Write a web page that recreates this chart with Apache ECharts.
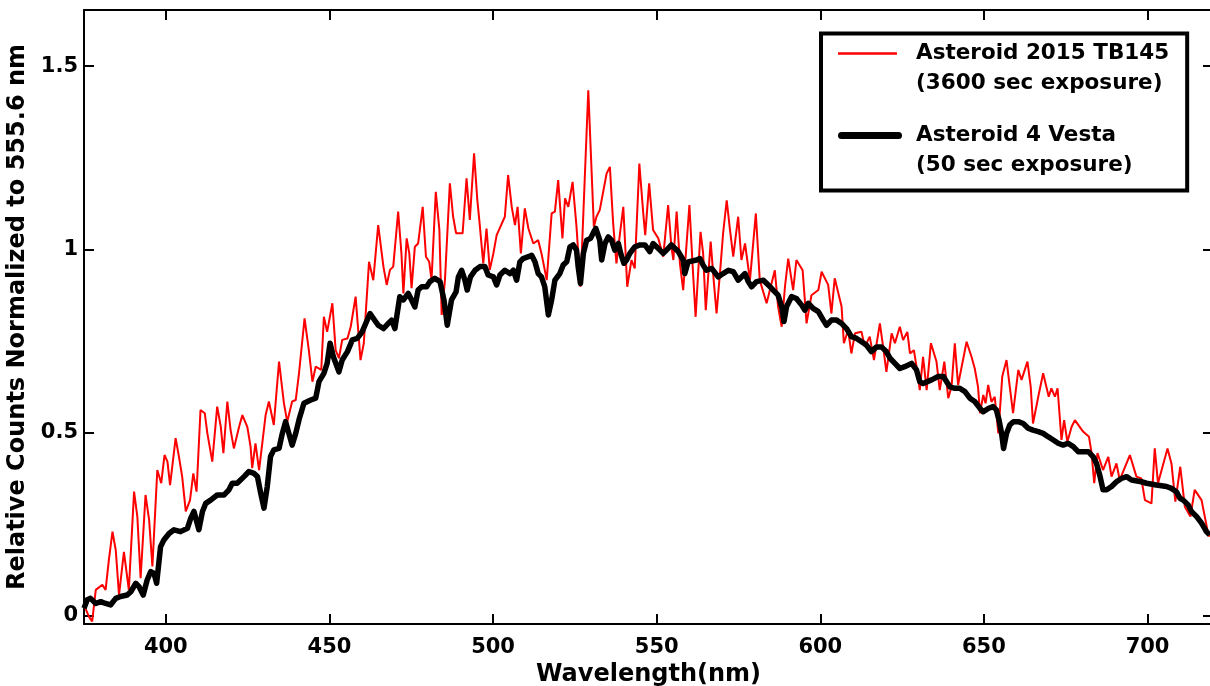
<!DOCTYPE html>
<html>
<head>
<meta charset="utf-8">
<script src="https://cdn.jsdelivr.net/npm/echarts@6/dist/echarts.min.js"></script>
<style>
  html, body { margin: 0; padding: 0; background: #fff; }
  #chart { width: 1210px; height: 686px; }
</style>
</head>
<body>
<div id="chart"></div>
<script>
// values
const xTicks = [400, 450, 500, 550, 600, 650, 700];
const yTicks = [0, 0.5, 1, 1.5];
const seriesNames = ["Asteroid 2015 TB145", "Asteroid 4 Vesta"];
const exposureNotes = ["(3600 sec exposure)", "(50 sec exposure)"];

// Asteroid 2015 TB145 (red)
const tb145Nm = [
  375.0, 376.5, 377.5, 378.6, 380.6, 381.6, 382.6, 383.7, 384.7, 385.7, 387.2, 388.7,
  390.3, 391.3, 392.3, 393.8, 394.9, 395.9, 397.4, 398.6, 399.6, 400.5, 401.3, 403.0,
  404.0, 405.0, 406.1, 407.4, 408.4, 409.4, 410.6, 411.9, 412.7, 414.2, 415.7, 416.8,
  417.6, 418.8, 419.8, 420.8, 422.4, 423.4, 424.9, 425.9, 426.4, 427.4, 428.5, 430.5,
  431.5, 433.0, 434.6, 436.1, 437.1, 438.6, 439.7, 440.7, 442.4, 443.7, 444.8, 445.8,
  447.5, 448.3, 449.3, 450.9, 451.9, 452.9, 453.9, 455.5, 456.5, 458.0, 459.5, 460.5,
  462.1, 463.4, 464.9, 466.5, 467.5, 468.5, 469.5, 471.0, 472.0, 472.6, 473.6, 474.4,
  475.1, 476.1, 477.1, 478.5, 479.5, 480.5, 481.2, 482.5, 483.6, 484.3, 485.3, 486.8,
  487.8, 488.7, 490.7, 491.9, 492.9, 494.2, 495.2, 495.8, 497.0, 498.0, 499.0, 500.1,
  501.1, 503.6, 504.6, 505.7, 506.7, 507.5, 508.5, 509.7, 510.8, 512.3, 513.8, 514.8,
  516.4, 517.9, 518.9, 519.9, 521.2, 522.0, 523.0, 524.3, 525.5, 526.7, 529.1, 530.8,
  531.6, 532.6, 534.7, 535.7, 536.7, 537.7, 538.8, 539.8, 541.0, 542.3, 543.3, 544.7,
  545.9, 546.5, 547.7, 548.9, 550.5, 552.0, 553.5, 554.5, 555.1, 556.1, 557.1, 558.1,
  560.0, 561.0, 561.9, 563.4, 564.2, 565.0, 566.5, 567.5, 568.3, 569.5, 570.3, 571.4,
  572.4, 573.4, 574.9, 575.9, 577.0, 578.5, 580.3, 581.5, 583.6, 586.1, 587.1, 588.2,
  589.2, 590.2, 591.7, 592.7, 594.6, 595.8, 597.3, 599.4, 600.4, 602.4, 603.4, 604.4,
  606.5, 607.2, 608.5, 609.5, 610.6, 612.6, 613.6, 615.1, 616.4, 618.2, 619.2, 620.2,
  621.8, 622.8, 624.3, 625.3, 626.6, 627.4, 628.6, 629.4, 630.4, 631.4, 632.5, 633.8,
  635.5, 636.5, 637.9, 639.1, 640.1, 641.1, 642.1, 644.7, 646.2, 647.2, 648.2, 648.8,
  649.8, 650.5, 651.3, 652.3, 653.3, 654.4, 655.6, 656.9, 657.9, 658.9, 660.5, 661.5,
  663.3, 664.3, 665.0, 666.6, 668.1, 669.8, 670.6, 671.7, 672.5, 673.7, 674.5, 675.5,
  676.8, 677.8, 680.3, 682.1, 682.9, 683.7, 684.7, 686.4, 688.0, 689.0, 690.5, 691.5,
  694.6, 696.6, 698.1, 699.2, 701.2, 702.2, 703.2, 706.1, 707.3, 708.5, 710.0, 711.4,
  713.1, 714.4, 716.5, 718.5, 719.0
];
const tb145Counts = [
  0.030, -0.002, -0.015, 0.071, 0.085, 0.071, 0.153, 0.230, 0.180, 0.057, 0.175, 0.071,
  0.339, 0.271, 0.103, 0.330, 0.262, 0.135, 0.398, 0.362, 0.439, 0.421, 0.357, 0.485,
  0.435, 0.380, 0.285, 0.316, 0.389, 0.339, 0.562, 0.553, 0.498, 0.421, 0.571, 0.516,
  0.444, 0.585, 0.507, 0.457, 0.516, 0.548, 0.516, 0.462, 0.403, 0.471, 0.398, 0.548,
  0.585, 0.521, 0.694, 0.580, 0.530, 0.585, 0.589, 0.662, 0.812, 0.725, 0.639, 0.680,
  0.671, 0.816, 0.775, 0.853, 0.725, 0.703, 0.753, 0.757, 0.789, 0.871, 0.698, 0.744,
  0.966, 0.916, 1.066, 0.953, 0.903, 0.944, 0.953, 1.103, 0.989, 0.880, 1.030, 0.989,
  0.894, 1.007, 1.016, 1.116, 0.980, 0.966, 0.916, 1.157, 1.053, 0.821, 0.916, 1.180,
  1.089, 1.044, 1.044, 1.194, 1.080, 1.262, 1.134, 1.080, 0.962, 1.057, 0.944, 0.989,
  1.039, 1.089, 1.203, 1.116, 1.066, 1.116, 0.989, 1.112, 1.057, 1.016, 1.025, 0.989,
  0.916, 1.098, 1.103, 1.189, 1.030, 1.139, 1.116, 1.184, 1.062, 0.898, 1.434, 1.062,
  1.089, 1.107, 1.207, 1.225, 1.071, 0.962, 1.044, 1.116, 0.898, 0.971, 0.948, 1.234,
  1.098, 1.039, 1.180, 1.053, 1.030, 0.980, 1.121, 1.007, 0.971, 1.103, 0.962, 0.889,
  1.121, 0.953, 0.816, 1.048, 0.989, 0.834, 1.021, 0.907, 0.825, 0.953, 1.044, 1.134,
  1.053, 0.980, 1.089, 0.971, 1.016, 0.916, 1.098, 0.916, 0.853, 0.943, 0.844, 0.789,
  0.898, 0.975, 0.889, 0.971, 0.943, 0.798, 0.875, 0.889, 0.939, 0.903, 0.825, 0.921,
  0.844, 0.744, 0.780, 0.716, 0.771, 0.775, 0.734, 0.762, 0.698, 0.798, 0.734, 0.666,
  0.771, 0.744, 0.789, 0.753, 0.775, 0.716, 0.725, 0.680, 0.616, 0.707, 0.616, 0.744,
  0.694, 0.616, 0.694, 0.594, 0.625, 0.744, 0.630, 0.748, 0.707, 0.675, 0.625, 0.553,
  0.603, 0.580, 0.630, 0.584, 0.598, 0.498, 0.653, 0.698, 0.625, 0.553, 0.671, 0.644,
  0.694, 0.625, 0.525, 0.598, 0.662, 0.598, 0.621, 0.598, 0.621, 0.480, 0.534, 0.475,
  0.516, 0.534, 0.503, 0.489, 0.444, 0.362, 0.444, 0.398, 0.434, 0.380, 0.416, 0.371,
  0.439, 0.380, 0.375, 0.316, 0.307, 0.457, 0.362, 0.457, 0.416, 0.312, 0.407, 0.298,
  0.271, 0.344, 0.316, 0.225, 0.216
];

// Asteroid 4 Vesta (black)
const vestaNm = [
  375.0, 376.0, 377.0, 378.6, 380.1, 381.6, 383.1, 384.7, 386.2, 388.2, 389.3, 390.8,
  391.8, 393.1, 394.3, 395.4, 396.4, 397.2, 398.4, 399.4, 401.0, 402.5, 404.5, 406.6,
  407.6, 408.6, 410.1, 411.2, 412.2, 413.7, 415.7, 417.8, 419.3, 420.3, 421.8, 423.9,
  425.4, 426.9, 428.0, 429.0, 430.0, 431.0, 432.0, 433.0, 434.6, 435.6, 436.6, 437.6,
  438.6, 439.7, 440.7, 442.2, 444.3, 445.8, 446.8, 448.3, 449.3, 450.2, 451.2, 452.9,
  453.9, 455.5, 457.0, 458.5, 460.0, 461.1, 462.4, 463.4, 464.9, 466.5, 468.0, 469.0,
  470.0, 471.5, 472.6, 474.1, 475.1, 476.1, 477.1, 478.2, 479.7, 480.7, 482.2, 483.8,
  485.0, 486.0, 487.3, 488.7, 489.4, 490.4, 491.4, 492.1, 493.1, 494.5, 496.0, 497.5,
  498.5, 500.1, 501.1, 502.1, 503.6, 505.2, 506.2, 507.2, 508.2, 509.2, 510.8, 511.8,
  512.8, 513.8, 514.8, 515.8, 516.9, 517.9, 518.9, 520.4, 521.4, 522.5, 523.5, 524.5,
  525.5, 526.0, 526.7, 527.6, 528.6, 529.8, 530.8, 531.4, 532.6, 533.2, 534.2, 535.2,
  536.2, 537.2, 538.3, 539.0, 540.0, 540.8, 541.8, 543.3, 544.9, 546.4, 547.9, 548.9,
  551.0, 552.0, 553.0, 554.5, 556.6, 558.1, 558.6, 559.6, 562.2, 563.2, 564.2, 565.2,
  566.8, 568.8, 570.3, 571.9, 573.4, 574.9, 577.0, 578.0, 579.0, 580.5, 582.6, 584.1,
  585.6, 587.1, 588.2, 588.9, 589.7, 591.2, 592.7, 594.3, 595.3, 596.3, 597.8, 599.4,
  600.9, 601.9, 603.4, 605.0, 606.5, 608.0, 609.5, 611.1, 612.6, 614.1, 615.6, 617.2,
  618.7, 620.2, 621.3, 622.8, 624.3, 625.8, 627.9, 629.4, 630.4, 631.4, 634.0, 636.0,
  637.6, 638.6, 639.6, 641.1, 642.6, 644.2, 645.7, 647.2, 648.8, 649.8, 651.3, 652.8,
  653.8, 654.6, 655.4, 656.0, 656.9, 657.9, 659.0, 660.5, 662.0, 663.5, 665.0, 666.6,
  668.1, 669.6, 671.2, 672.7, 674.2, 675.7, 677.3, 678.8, 681.9, 683.4, 684.4, 685.4,
  686.4, 687.5, 689.0, 690.5, 692.0, 693.6, 695.1, 698.1, 699.7, 702.7, 705.8, 707.3,
  708.8, 709.9, 710.9, 712.4, 713.4, 715.0, 716.5, 718.0, 719.0
];
const vestaCounts = [
  0.021, 0.044, 0.048, 0.034, 0.039, 0.034, 0.030, 0.048, 0.053, 0.057, 0.066, 0.089,
  0.080, 0.057, 0.098, 0.121, 0.116, 0.089, 0.189, 0.207, 0.225, 0.235, 0.230, 0.239,
  0.266, 0.285, 0.235, 0.285, 0.307, 0.316, 0.330, 0.330, 0.344, 0.362, 0.362, 0.380,
  0.394, 0.389, 0.380, 0.335, 0.294, 0.353, 0.435, 0.453, 0.457, 0.498, 0.530, 0.498,
  0.466, 0.498, 0.535, 0.580, 0.589, 0.594, 0.639, 0.662, 0.689, 0.744, 0.707, 0.666,
  0.698, 0.721, 0.753, 0.757, 0.775, 0.798, 0.825, 0.812, 0.793, 0.784, 0.798, 0.807,
  0.784, 0.871, 0.862, 0.880, 0.862, 0.843, 0.889, 0.898, 0.898, 0.912, 0.921, 0.912,
  0.862, 0.793, 0.862, 0.884, 0.925, 0.943, 0.916, 0.889, 0.925, 0.943, 0.953, 0.953,
  0.930, 0.925, 0.903, 0.930, 0.943, 0.934, 0.943, 0.916, 0.966, 0.975, 0.980, 0.984,
  0.966, 0.934, 0.925, 0.898, 0.821, 0.862, 0.916, 0.934, 0.957, 0.966, 1.007, 1.012,
  0.998, 0.953, 0.907, 0.989, 1.025, 1.030, 1.048, 1.057, 1.025, 0.971, 1.016, 1.034,
  1.025, 0.998, 1.016, 0.989, 0.962, 0.971, 0.989, 1.007, 1.012, 1.012, 0.994, 1.016,
  0.998, 0.989, 0.998, 1.012, 0.994, 0.971, 0.934, 0.966, 0.971, 0.975, 0.957, 0.943,
  0.948, 0.925, 0.934, 0.943, 0.939, 0.916, 0.934, 0.912, 0.898, 0.912, 0.916, 0.903,
  0.889, 0.875, 0.844, 0.803, 0.844, 0.871, 0.866, 0.848, 0.834, 0.853, 0.839, 0.830,
  0.807, 0.793, 0.807, 0.807, 0.798, 0.784, 0.762, 0.757, 0.748, 0.739, 0.721, 0.734,
  0.734, 0.721, 0.703, 0.689, 0.675, 0.680, 0.689, 0.671, 0.639, 0.634, 0.644, 0.653,
  0.653, 0.639, 0.625, 0.621, 0.621, 0.612, 0.594, 0.585, 0.566, 0.557, 0.566, 0.571,
  0.562, 0.535, 0.498, 0.457, 0.498, 0.521, 0.530, 0.530, 0.525, 0.512, 0.507, 0.503,
  0.498, 0.489, 0.480, 0.471, 0.466, 0.471, 0.462, 0.448, 0.448, 0.434, 0.416, 0.384,
  0.344, 0.344, 0.353, 0.366, 0.375, 0.380, 0.371, 0.366, 0.362, 0.357, 0.353, 0.348,
  0.339, 0.321, 0.316, 0.303, 0.285, 0.271, 0.253, 0.230, 0.221
];

const FONT = "DejaVu Sans";

function zip(xs, ys) {
  const out = [];
  for (let i = 0; i < xs.length; i++) out.push([xs[i], ys[i]]);
  return out;
}

// legend icons: the bar sits on the first text line, tiny corner points fix the box size
const redIcon =
  "path://M0,0L0.01,0L0,0.01Z M63.99,60L64,60L64,59.99Z M0,13.7L59,13.7L59,16.3L0,16.3Z";
const blackIcon =
  "path://M0,0L0.01,0L0,0.01Z M63.99,60L64,60L64,59.99Z " +
  "M3.5,11.5L60.5,11.5A3.5,3.5 0 0 1 60.5,18.5L3.5,18.5A3.5,3.5 0 0 1 3.5,11.5Z";

function frameAxis(extra) {
  const base = {
    type: "value",
    axisLine: { show: true, onZero: false, lineStyle: { color: "#000", width: 2 } },
    axisTick: { show: true, inside: true, length: 10, lineStyle: { color: "#000", width: 2 } },
    axisLabel: { show: false },
    splitLine: { show: false }
  };
  return Object.assign(base, extra);
}

const chart = echarts.init(document.getElementById("chart"), null, { renderer: "canvas" });

const option = {
  animation: false,
  backgroundColor: "#fff",
  grid: { left: 84, right: -3, top: 10, bottom: 62, containLabel: false, outerBoundsMode: "none" },
  xAxis: [
    frameAxis({
      position: "bottom",
      min: 375,
      max: 720,
      name: "Wavelength(nm)",
      nameLocation: "middle",
      nameGap: 37,
      nameTextStyle: { fontFamily: FONT, fontWeight: "bold", fontSize: 24, color: "#000" },
      axisTick: { show: true, inside: true, length: 10, customValues: xTicks, lineStyle: { color: "#000", width: 2 } },
      axisLabel: {
        show: true, customValues: xTicks, margin: 13,
        fontFamily: FONT, fontWeight: "bold", fontSize: 21, color: "#000"
      }
    }),
    frameAxis({
      position: "top",
      min: 375,
      max: 720,
      axisTick: { show: true, inside: true, length: 10, customValues: xTicks, lineStyle: { color: "#000", width: 2 } }
    })
  ],
  yAxis: [
    frameAxis({
      position: "left",
      min: -0.022,
      max: 1.653,
      name: "Relative Counts Normalized to 555.6 nm",
      nameLocation: "middle",
      nameGap: 51,
      nameTextStyle: { fontFamily: FONT, fontWeight: "bold", fontSize: 24, color: "#000" },
      axisTick: { show: true, inside: true, length: 10, customValues: yTicks, lineStyle: { color: "#000", width: 2 } },
      axisLabel: {
        show: true, customValues: yTicks, margin: 6,
        fontFamily: FONT, fontWeight: "bold", fontSize: 21, color: "#000"
      }
    }),
    frameAxis({
      position: "right",
      min: -0.022,
      max: 1.653,
      axisTick: { show: true, inside: true, length: 10, customValues: yTicks, lineStyle: { color: "#000", width: 2 } }
    })
  ],
  legend: {
    orient: "vertical",
    left: 821,
    top: 33.5,
    padding: [5, 18, 10, 17],
    itemGap: 22,
    itemWidth: 64,
    itemHeight: 60,
    borderColor: "#000",
    borderWidth: 4,
    backgroundColor: "#fff",
    selectedMode: false,
    data: [
      { name: seriesNames[0], icon: redIcon, itemStyle: { color: "#ff0000", borderWidth: 0 } },
      { name: seriesNames[1], icon: blackIcon, itemStyle: { color: "#000000", borderWidth: 0 } }
    ],
    formatter: function (name) {
      const i = seriesNames.indexOf(name);
      return "{a|" + name + "}\n{a|" + exposureNotes[i] + "}";
    },
    textStyle: {
      rich: {
        a: {
          fontFamily: FONT, fontWeight: "bold", fontSize: 21.5, color: "#000",
          lineHeight: 30, padding: [0, 0, 0, 9]
        }
      }
    }
  },
  series: [
    {
      name: seriesNames[0],
      type: "line",
      xAxisIndex: 0,
      yAxisIndex: 0,
      data: zip(tb145Nm, tb145Counts),
      showSymbol: false,
      symbol: "none",
      lineStyle: { color: "#ff0000", width: 2 },
      itemStyle: { color: "#ff0000" },
      z: 2
    },
    {
      name: seriesNames[1],
      type: "line",
      xAxisIndex: 0,
      yAxisIndex: 0,
      data: zip(vestaNm, vestaCounts),
      showSymbol: false,
      symbol: "none",
      lineStyle: { color: "#000000", width: 5.5, join: "round" },
      itemStyle: { color: "#000000" },
      z: 3
    }
  ]
};

chart.setOption(option);
</script>
</body>
</html>
